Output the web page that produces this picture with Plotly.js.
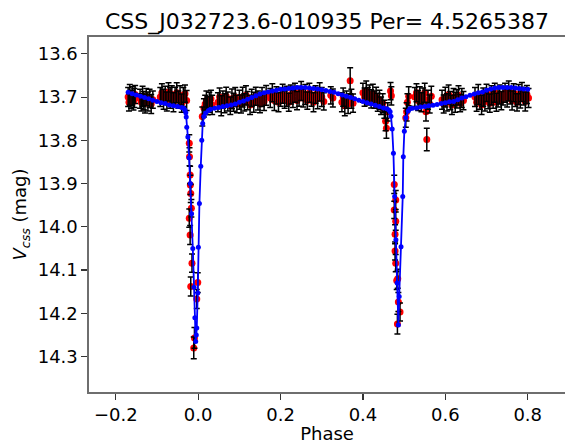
<!DOCTYPE html>
<html>
<head>
<meta charset="utf-8">
<script src="https://cdn.plot.ly/plotly-3.0.1.min.js"></script>
<style>html,body{margin:0;padding:0;overflow:hidden;background:#fff}</style>
</head>
<body>
<div id="chart" style="width:565px;height:444px"></div>
<script>
// Observed photometry (phase, V_css magnitude, error)
const obsPhase = [
 -0.170,-0.168,-0.166,-0.163,-0.160,-0.157,-0.155,-0.153,
 -0.141,-0.138,-0.135,-0.132,-0.129,-0.126,-0.122,-0.118,-0.114,-0.110,
 -0.092,-0.088,-0.084,-0.080,-0.076,-0.072,-0.068,-0.064,-0.060,-0.056,-0.052,-0.048,-0.044,-0.040,-0.036,-0.032,-0.028,
 -0.0216,-0.0210,-0.0195,-0.0190,-0.0180,-0.0165,-0.0216,-0.0195,-0.0150,-0.0180,-0.0010,-0.0034,-0.0090,-0.0107,
 0.010,0.014,0.017,0.020,0.023,0.027,0.031,0.034,
 0.048,0.052,0.056,0.060,0.064,0.068,0.072,0.078,0.082,0.086,0.090,0.094,
 0.100,0.104,0.108,0.112,0.116,0.120,0.126,0.130,0.135,0.140,0.145,0.150,0.155,0.160,0.165,
 0.175,0.180,0.185,0.190,0.195,0.200,0.205,0.210,0.215,0.220,0.225,0.230,0.235,0.240,0.245,0.250,0.255,0.260,0.265,0.270,0.275,0.280,0.285,0.290,0.295,0.300,0.305,
 0.322,0.327,
 0.349,0.352,0.356,0.360,0.364,0.369,0.372,0.376,
 0.400,0.404,0.408,0.412,0.416,0.420,0.424,0.428,0.432,0.436,0.440,0.444,0.448,0.452,0.455,0.457,0.460,0.467,0.469,
 0.476,0.4796,0.476,0.4796,0.478,0.478,0.4796,0.4845,0.482,0.486,0.490,0.4837,
 0.504,0.506,0.508,0.511,
 0.526,0.530,0.534,0.538,0.542,0.546,0.550,0.553,0.555,0.558,0.562,0.566,
 0.592,0.596,0.600,0.604,0.608,0.612,0.616,0.620,0.624,0.628,0.632,0.636,0.640,0.644,
 0.672,0.676,0.680,0.684,0.688,0.692,0.696,0.700,0.704,0.708,0.712,0.716,0.720,0.724,0.728,0.732,0.736,0.740,
 0.745,0.750,0.754,0.758,0.762,0.766,0.770,0.774,0.778,0.782,0.786,0.790,0.794,0.798,0.802
];
const obsMag = [
 13.700,13.712,13.695,13.705,13.698,13.710,13.702,13.694,
 13.704,13.712,13.698,13.708,13.715,13.700,13.710,13.703,13.716,13.706,
 13.700,13.690,13.705,13.695,13.710,13.688,13.702,13.694,13.712,13.698,13.690,13.706,13.696,13.714,13.700,13.692,13.708,
 13.807,13.838,13.880,13.903,13.923,13.957,13.980,14.019,14.084,14.138,14.129,14.167,14.257,14.280,
 13.745,13.725,13.716,13.708,13.720,13.712,13.704,13.718,
 13.712,13.700,13.720,13.706,13.714,13.698,13.710,13.720,13.704,13.712,13.700,13.716,
 13.706,13.716,13.700,13.712,13.696,13.708,13.718,13.702,13.712,13.698,13.708,13.716,13.700,13.710,13.696,
 13.702,13.690,13.708,13.696,13.712,13.700,13.692,13.706,13.698,13.712,13.694,13.704,13.690,13.708,13.698,13.686,13.702,13.694,13.708,13.690,13.700,13.712,13.694,13.704,13.688,13.700,13.710,
 13.696,13.702,
 13.712,13.700,13.720,13.706,13.716,13.662,13.704,13.714,
 13.690,13.700,13.686,13.698,13.694,13.704,13.692,13.706,13.700,13.712,13.706,13.720,13.714,13.728,13.756,13.772,13.734,13.686,13.697,
 13.902,13.938,13.961,13.987,14.017,14.056,14.084,14.120,14.124,14.174,14.197,14.225,
 13.748,13.734,13.712,13.698,
 13.700,13.690,13.708,13.696,13.712,13.700,13.690,13.734,13.798,13.706,13.716,13.698,
 13.706,13.716,13.700,13.712,13.694,13.708,13.718,13.700,13.712,13.704,13.696,13.714,13.702,13.708,
 13.700,13.712,13.694,13.708,13.718,13.700,13.710,13.690,13.704,13.714,13.696,13.706,13.690,13.712,13.700,13.694,13.708,13.698,
 13.690,13.702,13.686,13.696,13.708,13.690,13.700,13.712,13.694,13.704,13.688,13.698,13.710,13.694,13.702
];
const obsErr = [
 0.022,0.020,0.024,0.021,0.022,0.020,0.022,0.021,
 0.022,0.020,0.023,0.021,0.022,0.020,0.022,0.021,0.022,0.020,
 0.022,0.021,0.023,0.020,0.022,0.021,0.024,0.020,0.022,0.021,0.023,0.020,0.022,0.021,0.022,0.020,0.023,
 0.020,0.021,0.020,0.022,0.021,0.020,0.021,0.022,0.021,0.022,0.023,0.022,0.024,0.025,
 0.022,0.021,0.020,0.022,0.021,0.023,0.020,0.022,
 0.022,0.021,0.023,0.020,0.022,0.021,0.022,0.020,0.023,0.021,0.022,0.020,
 0.022,0.021,0.023,0.020,0.022,0.021,0.022,0.020,0.023,0.021,0.022,0.020,0.022,0.021,0.023,
 0.022,0.021,0.023,0.020,0.022,0.021,0.022,0.020,0.023,0.021,0.022,0.020,0.022,0.021,0.023,0.022,0.021,0.023,0.020,0.022,0.021,0.022,0.020,0.023,0.021,0.022,0.020,
 0.020,0.021,
 0.022,0.021,0.023,0.020,0.022,0.030,0.022,0.021,
 0.022,0.021,0.023,0.020,0.022,0.021,0.022,0.020,0.023,0.021,0.022,0.020,0.022,0.021,0.022,0.023,0.021,0.020,0.021,
 0.021,0.022,0.020,0.021,0.022,0.021,0.020,0.022,0.021,0.022,0.021,0.023,
 0.022,0.021,0.020,0.022,
 0.022,0.021,0.023,0.020,0.022,0.021,0.022,0.021,0.026,0.022,0.021,0.023,
 0.022,0.021,0.023,0.020,0.022,0.021,0.022,0.020,0.023,0.021,0.022,0.020,0.022,0.021,
 0.022,0.021,0.023,0.020,0.022,0.021,0.022,0.020,0.023,0.021,0.022,0.020,0.022,0.021,0.023,0.022,0.021,0.020,
 0.022,0.021,0.023,0.020,0.022,0.021,0.022,0.020,0.023,0.021,0.022,0.020,0.022,0.021,0.022
];
// Model light curve
const modelPhase = [
 -0.170,-0.160,-0.150,-0.140,-0.130,-0.120,-0.110,-0.100,-0.090,-0.080,-0.070,-0.060,-0.050,-0.040,-0.035,-0.032,-0.030,-0.029,-0.0277,-0.025,
 -0.022,-0.019,-0.016,-0.013,-0.010,-0.008,-0.006,-0.0045,-0.0034,-0.001,0.0005,0.003,0.0063,0.0087,0.011,0.014,0.018,0.025,
 0.030,0.040,0.050,0.060,0.070,0.080,0.090,0.100,0.110,0.120,0.130,0.140,0.150,0.160,0.170,0.180,0.190,0.200,0.210,0.220,0.230,0.240,0.250,0.260,0.270,0.280,0.290,0.300,0.310,0.320,0.330,0.340,0.350,0.360,0.370,0.380,0.390,0.400,0.410,0.420,0.430,0.440,0.450,0.458,
 0.463,0.466,0.468,0.471,0.474,0.477,0.480,0.483,0.486,0.488,0.4925,0.4966,0.498,0.5005,0.504,0.510,0.514,
 0.520,0.530,0.540,0.550,0.560,0.570,0.580,0.590,0.600,0.610,0.620,0.630,0.640,0.650,0.660,0.670,0.680,0.690,0.700,0.710,0.720,0.730,0.740,0.750,0.760,0.770,0.780,0.790,0.800
];
const modelMag = [
 13.689,13.692,13.695,13.698,13.701,13.704,13.707,13.710,13.713,13.715,13.718,13.720,13.722,13.724,13.726,13.730,13.736,13.746,13.770,13.792,
 13.840,13.900,13.970,14.050,14.140,14.210,14.265,14.250,14.234,14.153,14.047,13.946,13.860,13.800,13.761,13.745,13.737,13.731,
 13.728,13.726,13.724,13.722,13.720,13.718,13.716,13.712,13.709,13.705,13.701,13.697,13.693,13.690,13.688,13.686,13.684,13.682,13.681,13.680,13.679,13.678,13.678,13.678,13.679,13.680,13.681,13.683,13.685,13.687,13.689,13.692,13.695,13.698,13.701,13.704,13.707,13.710,13.713,13.716,13.719,13.722,13.725,13.727,
 13.730,13.734,13.744,13.774,13.830,13.930,14.030,14.130,14.227,14.161,14.046,13.930,13.838,13.779,13.748,13.732,13.727,
 13.726,13.725,13.723,13.722,13.720,13.719,13.717,13.715,13.713,13.711,13.710,13.706,13.702,13.699,13.696,13.693,13.690,13.688,13.684,13.681,13.679,13.678,13.678,13.678,13.678,13.679,13.680,13.681,13.682
];
const xTicks = [-0.2, 0.0, 0.2, 0.4, 0.6, 0.8];
const xTickText = ['\u22120.2', '0.0', '0.2', '0.4', '0.6', '0.8'];
const yTicks = [13.6, 13.7, 13.8, 13.9, 14.0, 14.1, 14.2, 14.3];
const yTickText = ['13.6', '13.7', '13.8', '13.9', '14.0', '14.1', '14.2', '14.3'];

const traces = [
  {x: obsPhase, y: obsMag, type: 'scatter', mode: 'markers',
   marker: {color: '#ff0000', size: 7}, hoverinfo: 'skip'},
  {x: obsPhase, y: obsMag, type: 'scatter', mode: 'markers',
   marker: {color: 'rgba(0,0,0,0)', size: 1},
   error_y: {type: 'data', array: obsErr, visible: true, color: '#000000', thickness: 1.5, width: 3},
   hoverinfo: 'skip'},
  {x: modelPhase, y: modelMag, type: 'scatter', mode: 'lines+markers',
   line: {color: '#0000ff', width: 1.8}, marker: {color: '#0000ff', size: 5}, hoverinfo: 'skip'}
];

const font = {family: 'DejaVu Sans, sans-serif', color: '#000000'};
const layout = {
  width: 565, height: 444,
  margin: {l: 89, r: 0, t: 37, b: 52, pad: 0},
  paper_bgcolor: '#ffffff', plot_bgcolor: '#ffffff',
  showlegend: false,
  font: Object.assign({size: 18}, font),
  title: {text: 'CSS_J032723.6-010935 Per= 4.5265387', font: Object.assign({size: 22}, font),
          x: 0.5, xref: 'paper', xanchor: 'center', y: 0.953, yref: 'container', yanchor: 'middle'},
  xaxis: {range: [-0.265, 0.8905], tickvals: xTicks, ticktext: xTickText,
          showgrid: false, zeroline: false, showline: true, mirror: true,
          linecolor: '#6e6e6e', linewidth: 1.6, ticks: 'outside', ticklen: 6, tickwidth: 1.2, tickcolor: '#333',
          tickfont: Object.assign({size: 18}, font),
          title: {text: 'Phase', font: Object.assign({size: 18}, font), standoff: 2}},
  yaxis: {range: [14.382, 13.561], tickvals: yTicks, ticktext: yTickText,
          showgrid: false, zeroline: false, showline: true, mirror: false,
          linecolor: '#6e6e6e', linewidth: 1.6, ticks: 'outside', ticklen: 6, tickwidth: 1.2, tickcolor: '#333',
          tickfont: Object.assign({size: 18}, font),
          title: {text: '<i>V</i><sub><i>css</i></sub> (mag)', font: Object.assign({size: 18}, font), standoff: 6}}
};
Plotly.newPlot('chart', traces, layout, {displayModeBar: false, staticPlot: true});
</script>
</body>
</html>
